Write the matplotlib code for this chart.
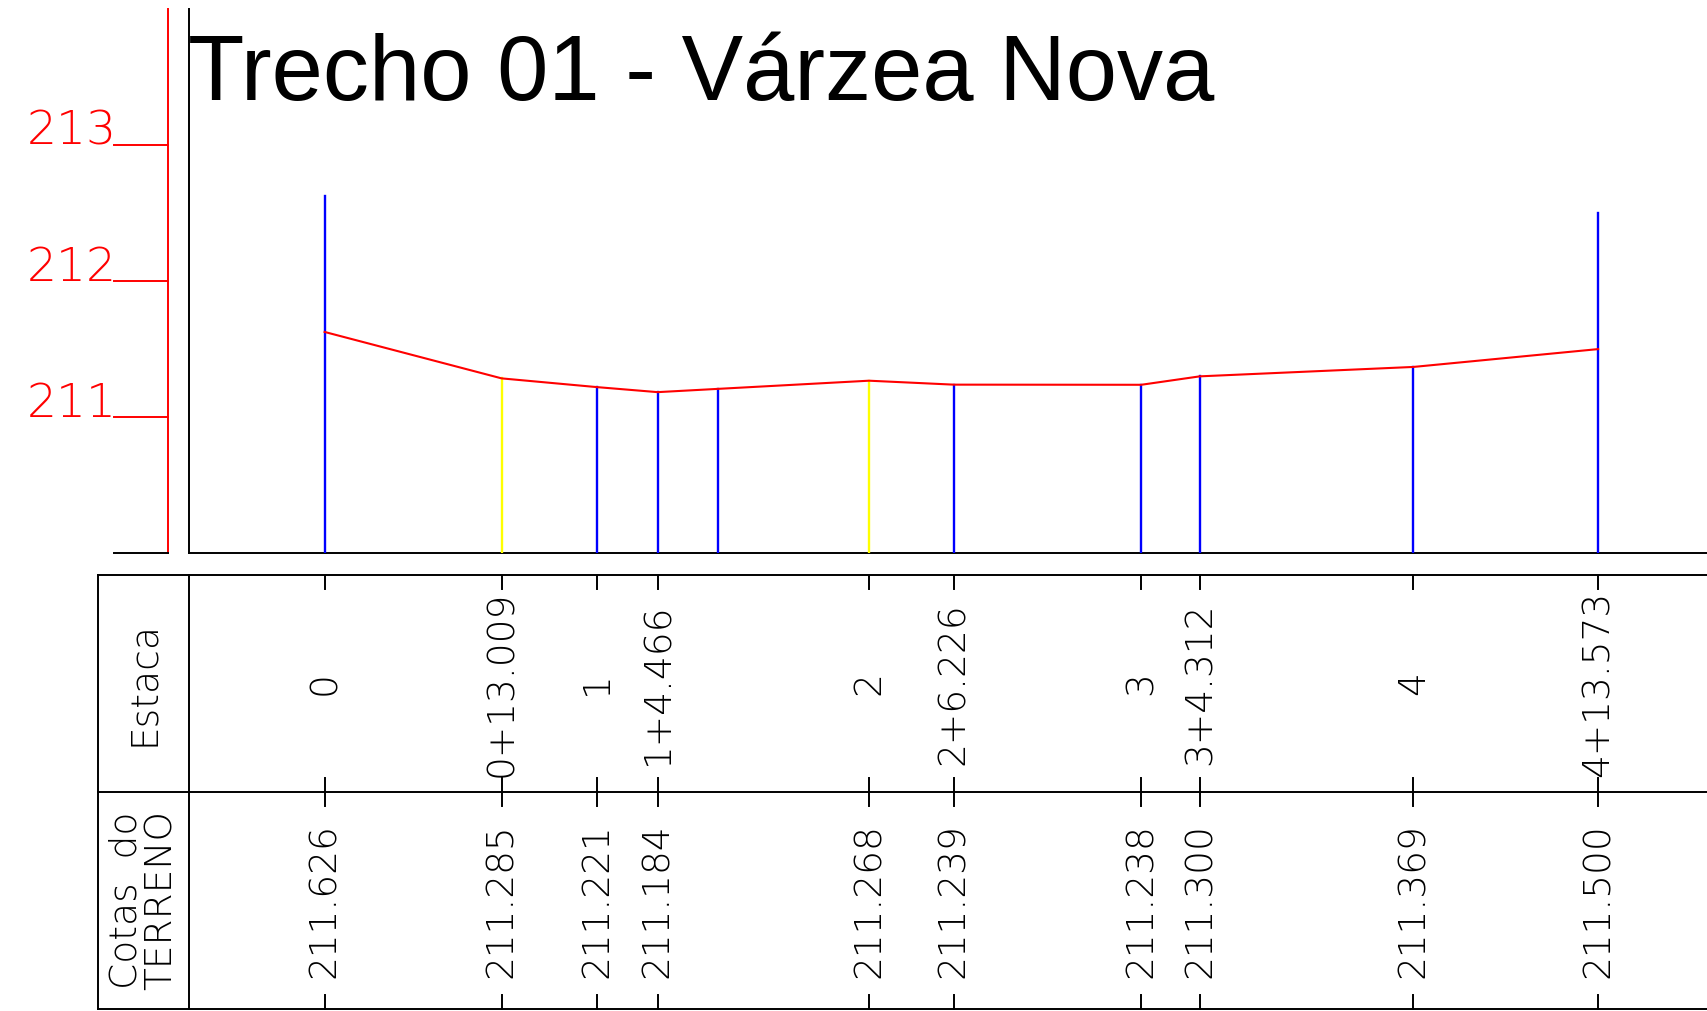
import numpy as np
import matplotlib.pyplot as plt

# perfil longitudinal - estacas de 20 m
estacas = ['0', '0+13.009', '1', '1+4.466', '2', '2+6.226', '3', '3+4.312', '4', '4+13.573']
cotas = [211.626, 211.285, 211.221, 211.184, 211.268, 211.239, 211.238, 211.300, 211.369, 211.500]
cores = ['#0000ff', '#ffff00', '#0000ff', '#0000ff', '#ffff00',
         '#0000ff', '#0000ff', '#0000ff', '#0000ff', '#0000ff']

# vertice do terreno sem estaca no quadro
extra_dist = [28.9]
extra_cota = [211.208]

cotas_eixo = [211, 212, 213]
titulo = 'Trecho 01 - Várzea Nova'


def distancia(estaca):
    partes = estaca.split('+')
    d = float(partes[0]) * 20.0
    if len(partes) > 1:
        d += float(partes[1])
    return d


dist = np.array([distancia(e) for e in estacas])
cota = np.array(cotas)

# terreno completo (estacas + vertice extra), ordenado
perfil_x = np.concatenate([dist, extra_dist])
perfil_y = np.concatenate([cota, extra_cota])
ordem = np.argsort(perfil_x)
perfil_x, perfil_y = perfil_x[ordem], perfil_y[ordem]

W, H = 1708, 1011
esc_x = 13.61    # px por metro (horizontal)
esc_y = 136.2    # px por metro (vertical, exagero 10x)
x0_px = 324.6    # posicao da estaca 0
base_px = 553.4  # cota 210
cota_base = 210.0

xmin = -x0_px / esc_x
xmax = (W - x0_px) / esc_x

fig = plt.figure(figsize=(W / 100, H / 100), dpi=100)
fig.patch.set_facecolor('white')

ax = fig.add_axes([0, 1 - base_px / H, 1, base_px / H])
ax.set_xlim(xmin, xmax)
ax.set_ylim(cota_base, cota_base + base_px / esc_y)
ax.axis('off')

tab_top, tab_bot = 575.0, 1009.0
axt = fig.add_axes([0, 1 - tab_bot / H, 1, (tab_bot - tab_top) / H], sharex=ax)
axt.set_ylim(0, 2)
axt.axis('off')

fonte = ['DejaVu Sans']
peso = 'light'
preto = '#000000'
verm = '#ff0000'
lw = 1.4

# eixo de cotas (vermelho) e moldura
x_eixo_v = -11.53
x_moldura = -10.0
x_tick = -15.44
ax.plot([x_eixo_v, x_eixo_v], [cota_base, 214.0], color=verm, lw=lw, clip_on=False)
ax.plot([x_moldura, x_moldura], [cota_base, 214.0], color=preto, lw=lw, clip_on=False)
ax.plot([x_tick, x_eixo_v], [cota_base, cota_base], color=preto, lw=lw, clip_on=False)
ax.plot([x_moldura, xmax], [cota_base, cota_base], color=preto, lw=lw, clip_on=False)
for c in cotas_eixo:
    ax.plot([x_tick, x_eixo_v], [c, c], color=verm, lw=lw)
    ax.text(x_tick + 0.15, c, str(c), color=verm, ha='right', va='baseline',
            fontsize=34, family=fonte, fontweight=peso)

# linhas verticais das estacas
for i, (x, y, cor) in enumerate(zip(dist, cota, cores)):
    topo = y + 1.0 if i in (0, len(dist) - 1) else y
    ax.plot([x, x], [cota_base, topo], color=cor, lw=1.7, zorder=2)
for x, y in zip(extra_dist, extra_cota):
    ax.plot([x, x], [cota_base, y], color='#0000ff', lw=1.7, zorder=2)

# terreno
ax.plot(perfil_x, perfil_y, color=verm, lw=1.5, zorder=3)

fig.text(188.5 / W, 1 - 100.2 / H, titulo, fontsize=66.3, family='Liberation Sans',
         ha='left', va='baseline', color=preto)

# quadro inferior
x_quadro = -16.65
for yl in (0, 1, 2):
    axt.plot([x_quadro, xmax], [yl, yl], color=preto, lw=lw, clip_on=False)
for xl in (x_quadro, x_moldura):
    axt.plot([xl, xl], [0, 2], color=preto, lw=lw, clip_on=False)

tk = 0.065
for x in dist:
    axt.plot([x, x], [2, 2 - tk], color=preto, lw=lw)
    axt.plot([x, x], [1 - tk, 1 + tk], color=preto, lw=lw)
    axt.plot([x, x], [0, tk], color=preto, lw=lw, clip_on=False)

tam = 27
for x, e, c in zip(dist, estacas, cotas):
    axt.text(x, 1.5, e, rotation=90, ha='center', va='center',
             fontsize=tam, family=fonte, fontweight=peso)
    axt.text(x, 0.5, f'{c:.3f}', rotation=90, ha='center', va='center',
             fontsize=tam, family=fonte, fontweight=peso)

xc = (x_quadro + x_moldura) / 2
axt.text(xc, 1.5, 'Estaca', rotation=90, ha='center', va='center',
         fontsize=tam, family=fonte, fontweight=peso)
axt.text(xc, 0.5, 'Cotas  do\nTERRENO', rotation=90, ha='center', va='center',
         multialignment='center', fontsize=tam, family=fonte, fontweight=peso,
         linespacing=1.0)

fig.savefig('out.png', dpi=100, facecolor='white')
